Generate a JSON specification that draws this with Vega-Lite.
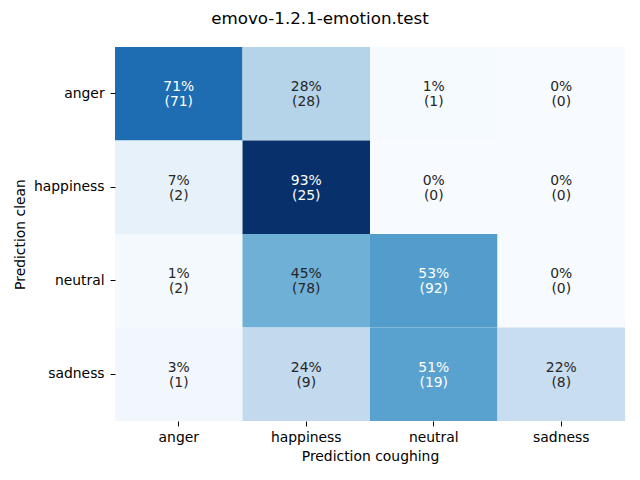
{
  "$schema": "https://vega.github.io/schema/vega-lite/v6.json",
  "width": 510,
  "height": 374,
  "autosize": "none",
  "padding": {"left": 115, "top": 47, "right": 15, "bottom": 59},
  "background": "white",
  "title": {"text": "emovo-1.2.1-emotion.test", "font": "DejaVu Sans", "fontSize": 16.7, "fontWeight": "normal", "color": "black", "offset": 19, "anchor": "middle", "dx": -50},
  "config": {"view": {"stroke": null}, "font": "DejaVu Sans"},
  "data": {"values": [
    {"clean": "anger", "coughing": "anger", "pct": 0.71, "n": 71},
    {"clean": "anger", "coughing": "happiness", "pct": 0.28, "n": 28},
    {"clean": "anger", "coughing": "neutral", "pct": 0.01, "n": 1},
    {"clean": "anger", "coughing": "sadness", "pct": 0.0, "n": 0},
    {"clean": "happiness", "coughing": "anger", "pct": 0.0741, "n": 2},
    {"clean": "happiness", "coughing": "happiness", "pct": 0.9259, "n": 25},
    {"clean": "happiness", "coughing": "neutral", "pct": 0.0, "n": 0},
    {"clean": "happiness", "coughing": "sadness", "pct": 0.0, "n": 0},
    {"clean": "neutral", "coughing": "anger", "pct": 0.0116, "n": 2},
    {"clean": "neutral", "coughing": "happiness", "pct": 0.4535, "n": 78},
    {"clean": "neutral", "coughing": "neutral", "pct": 0.5349, "n": 92},
    {"clean": "neutral", "coughing": "sadness", "pct": 0.0, "n": 0},
    {"clean": "sadness", "coughing": "anger", "pct": 0.027, "n": 1},
    {"clean": "sadness", "coughing": "happiness", "pct": 0.2432, "n": 9},
    {"clean": "sadness", "coughing": "neutral", "pct": 0.5135, "n": 19},
    {"clean": "sadness", "coughing": "sadness", "pct": 0.2162, "n": 8}
  ]},
  "transform": [{"calculate": "'(' + datum.n + ')'", "as": "nlabel"}],
  "encoding": {
    "x": {"field": "coughing", "type": "nominal", "sort": ["anger", "happiness", "neutral", "sadness"],
      "scale": {"paddingInner": 0, "paddingOuter": 0},
      "axis": {"title": "Prediction coughing", "labelAngle": 0, "domain": false, "ticks": true, "tickSize": 4.9, "tickColor": "black", "labelFont": "DejaVu Sans", "labelFontSize": 13.9, "labelColor": "black", "labelPadding": 4.5, "titleFont": "DejaVu Sans", "titleFontSize": 13.9, "titleFontWeight": "normal", "titleColor": "black", "titlePadding": 5}},
    "y": {"field": "clean", "type": "nominal", "sort": ["anger", "happiness", "neutral", "sadness"],
      "scale": {"paddingInner": 0, "paddingOuter": 0},
      "axis": {"title": "Prediction clean", "domain": false, "ticks": true, "tickSize": 4.9, "tickColor": "black", "labelFont": "DejaVu Sans", "labelFontSize": 13.9, "labelColor": "black", "labelPadding": 6, "titleFont": "DejaVu Sans", "titleFontSize": 13.9, "titleFontWeight": "normal", "titleColor": "black", "titlePadding": 6}}
  },
  "layer": [
    {"mark": {"type": "rect"},
     "encoding": {"color": {"field": "pct", "type": "quantitative", "legend": null,
       "scale": {"type": "linear", "domain": [0, 0.115738, 0.231475, 0.347213, 0.46295, 0.578688, 0.694425, 0.810163, 0.9259],
         "range": ["#f7fbff", "#deebf7", "#c6dbef", "#9ecae1", "#6baed6", "#4292c6", "#2171b5", "#08519c", "#08306b"], "interpolate": "rgb"}}}},
    {"mark": {"type": "text", "font": "DejaVu Sans", "fontSize": 13.9, "dy": -6.5},
     "encoding": {"text": {"field": "pct", "type": "quantitative", "format": ".0%"},
       "color": {"condition": {"test": "datum.pct > 0.5", "value": "white"}, "value": "#262626"}}},
    {"mark": {"type": "text", "font": "DejaVu Sans", "fontSize": 13.9, "dy": 8.5},
     "encoding": {"text": {"field": "nlabel", "type": "nominal"},
       "color": {"condition": {"test": "datum.pct > 0.5", "value": "white"}, "value": "#262626"}}}
  ]
}
